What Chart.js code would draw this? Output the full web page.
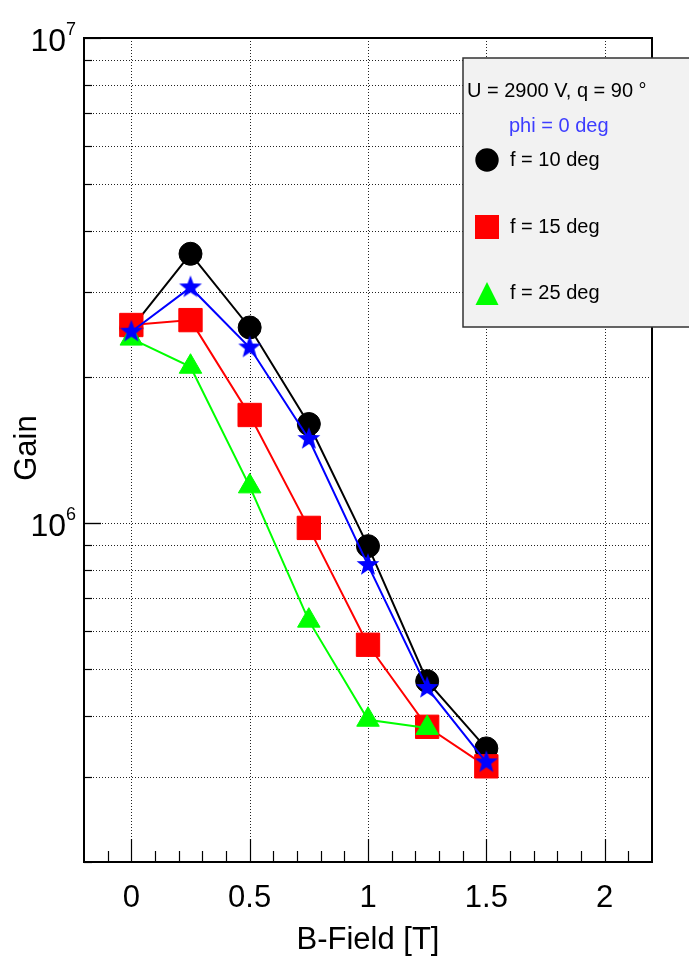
<!DOCTYPE html>
<html>
<head>
<meta charset="utf-8">
<title>Gain vs B-Field</title>
<script src="https://cdn.jsdelivr.net/npm/chart.js@4.4.0/dist/chart.umd.min.js"></script>
<style>
  html, body { margin: 0; padding: 0; background: #fff; }
  canvas { display: block; }
</style>
</head>
<body>
<canvas id="gainChart" width="689" height="960"></canvas>
<script>
// values
const bField = [0, 0.25, 0.5, 0.75, 1.0, 1.25, 1.5];
const gainF10 = [2.52e6, 3.59e6, 2.53e6, 1.60e6, 8.96e5, 4.72e5, 3.43e5];
const gainF15 = [2.56e6, 2.62e6, 1.67e6, 9.77e5, 5.61e5, 3.80e5, 3.15e5];
const gainF25 = [2.40e6, 2.10e6, 1.19e6, 6.29e5, 3.93e5, 3.78e5];
const gainPhi0 = [2.48e6, 3.06e6, 2.30e6, 1.49e6, 8.19e5, 4.57e5, 3.21e5];

const xTickValues = [0, 0.5, 1, 1.5, 2];
const xTickLabels = ["0", "0.5", "1", "1.5", "2"];
const yDecadeValues = [1e6, 1e7];
const yDecadeExponents = ["6", "7"];
const yGridValues = [2e5, 3e5, 4e5, 5e5, 6e5, 7e5, 8e5, 9e5,
                     1e6, 2e6, 3e6, 4e6, 5e6, 6e6, 7e6, 8e6, 9e6];

const legendTitle = "U = 2900 V, q = 90 \u00b0";
const legendSub = "phi = 0 deg";
const legendLabels = ["f = 10 deg", "f = 15 deg", "f = 25 deg"];

const FONT = '"Liberation Sans", Arial, Helvetica, sans-serif';

function toPoints(xs, ys) {
  return ys.map((y, i) => ({ x: xs[i], y: y }));
}

// filled five point star used as point style
function makeStar(outer, inner, color) {
  const size = Math.ceil(outer * 2 + 2);
  const c = document.createElement("canvas");
  c.width = size;
  c.height = size;
  const g = c.getContext("2d");
  g.fillStyle = color;
  g.beginPath();
  for (let i = 0; i < 10; i++) {
    const r = i % 2 === 0 ? outer : inner;
    const a = -Math.PI / 2 + (i * Math.PI) / 5;
    const px = size / 2 + r * Math.cos(a);
    const py = size / 2 + r * Math.sin(a);
    if (i === 0) g.moveTo(px, py);
    else g.lineTo(px, py);
  }
  g.closePath();
  g.fill();
  return c;
}

const starImg = makeStar(12, 5, "#0000ff");

const framePlugin = {
  id: "rootFrame",
  beforeDatasetsDraw(chart) {
    const ctx = chart.ctx;
    const area = chart.chartArea;
    const xs = chart.scales.x;
    const ys = chart.scales.y;
    ctx.save();
    ctx.strokeStyle = "#222";
    ctx.lineWidth = 1;
    ctx.setLineDash([1, 2]);
    xTickValues.forEach((v) => {
      const px = Math.round(xs.getPixelForValue(v)) + 0.5;
      ctx.beginPath();
      ctx.moveTo(px, area.top);
      ctx.lineTo(px, area.bottom);
      ctx.stroke();
    });
    yGridValues.forEach((v) => {
      const py = Math.round(ys.getPixelForValue(v)) + 0.5;
      ctx.beginPath();
      ctx.moveTo(area.left, py);
      ctx.lineTo(area.right, py);
      ctx.stroke();
    });
    ctx.restore();
  },
  afterDraw(chart) {
    const ctx = chart.ctx;
    const area = chart.chartArea;
    const xs = chart.scales.x;
    const ys = chart.scales.y;
    ctx.save();
    ctx.setLineDash([]);
    ctx.strokeStyle = "#000";

    // left axis ticks
    ctx.lineWidth = 1.2;
    yGridValues.concat(yDecadeValues).forEach((v) => {
      const py = Math.round(ys.getPixelForValue(v)) + 0.5;
      const len = yDecadeValues.includes(v) ? 17 : 8;
      ctx.beginPath();
      ctx.moveTo(area.left, py);
      ctx.lineTo(area.left + len, py);
      ctx.stroke();
    });

    // bottom axis ticks, minor every 0.1
    for (let k = -1; k <= 21; k++) {
      const v = k / 10;
      const px = Math.round(xs.getPixelForValue(v)) + 0.5;
      const len = k % 5 === 0 ? 23 : 11;
      ctx.beginPath();
      ctx.moveTo(px, area.bottom);
      ctx.lineTo(px, area.bottom - len);
      ctx.stroke();
    }

    // frame
    ctx.lineWidth = 2;
    ctx.strokeRect(area.left, area.top, area.right - area.left, area.bottom - area.top);

    // x tick labels
    ctx.fillStyle = "#000";
    ctx.font = "31px " + FONT;
    ctx.textAlign = "center";
    ctx.textBaseline = "middle";
    xTickValues.forEach((v, i) => {
      ctx.fillText(xTickLabels[i], xs.getPixelForValue(v), 898);
    });
    ctx.fillText("B-Field [T]", (area.left + area.right) / 2, 940);

    // y decade labels 10^n
    yDecadeValues.forEach((v, i) => {
      const py = ys.getPixelForValue(v);
      ctx.font = "18px " + FONT;
      ctx.textAlign = "left";
      ctx.textBaseline = "middle";
      ctx.fillText(yDecadeExponents[i], 66, py - 8);
      ctx.font = "32px " + FONT;
      ctx.textAlign = "right";
      ctx.fillText("10", 66, py + 4);
    });

    // y title
    ctx.save();
    ctx.translate(27, 448);
    ctx.rotate(-Math.PI / 2);
    ctx.font = "31px " + FONT;
    ctx.textAlign = "center";
    ctx.textBaseline = "middle";
    ctx.fillText("Gain", 0, 0);
    ctx.restore();

    // legend box
    const bx = 463, by = 58, bw = 240, bh = 269;
    ctx.fillStyle = "#f2f2f2";
    ctx.fillRect(bx, by, bw, bh);
    ctx.lineWidth = 1.5;
    ctx.strokeStyle = "#333";
    ctx.strokeRect(bx, by, bw, bh);

    ctx.fillStyle = "#000";
    ctx.font = "20px " + FONT;
    ctx.textAlign = "left";
    ctx.textBaseline = "middle";
    ctx.fillText(legendTitle, 467, 91);
    ctx.fillStyle = "#3c3cff";
    ctx.fillText(legendSub, 509, 126);

    const rowY = [160, 227, 293];
    ctx.fillStyle = "#000";
    legendLabels.forEach((t, i) => ctx.fillText(t, 510, rowY[i]));

    const mx = 487;
    ctx.fillStyle = "#000";
    ctx.beginPath();
    ctx.arc(mx, rowY[0], 11.7, 0, Math.PI * 2);
    ctx.fill();
    ctx.fillStyle = "#ff0000";
    ctx.fillRect(mx - 12, rowY[1] - 12, 24, 24);
    ctx.fillStyle = "#00ff00";
    ctx.beginPath();
    ctx.moveTo(mx, rowY[2] - 11);
    ctx.lineTo(mx + 11.5, rowY[2] + 12);
    ctx.lineTo(mx - 11.5, rowY[2] + 12);
    ctx.closePath();
    ctx.fill();

    ctx.restore();
  },
};

const whiteBg = {
  id: "whiteBg",
  beforeDraw(chart) {
    const ctx = chart.ctx;
    ctx.save();
    ctx.fillStyle = "#fff";
    ctx.fillRect(0, 0, chart.width, chart.height);
    ctx.restore();
  },
};

const ctx = document.getElementById("gainChart").getContext("2d");

new Chart(ctx, {
  type: "line",
  data: {
    datasets: [
      {
        label: "phi = 0 deg",
        data: toPoints(bField, gainPhi0),
        borderColor: "#0000ff",
        backgroundColor: "#0000ff",
        pointStyle: starImg,
        order: 1,
      },
      {
        label: "f = 25 deg",
        data: toPoints(bField, gainF25),
        borderColor: "#00ff00",
        backgroundColor: "#00ff00",
        pointStyle: "triangle",
        pointRadius: 13,
        order: 2,
      },
      {
        label: "f = 15 deg",
        data: toPoints(bField, gainF15),
        borderColor: "#ff0000",
        backgroundColor: "#ff0000",
        pointStyle: "rect",
        pointRadius: 16.5,
        order: 3,
      },
      {
        label: "f = 10 deg",
        data: toPoints(bField, gainF10),
        borderColor: "#000000",
        backgroundColor: "#000000",
        pointStyle: "circle",
        pointRadius: 11.5,
        order: 4,
      },
    ],
  },
  options: {
    responsive: false,
    animation: false,
    events: [],
    layout: { padding: { left: 84, top: 38, right: 37, bottom: 98 } },
    elements: {
      line: { borderWidth: 2, tension: 0 },
      point: { borderWidth: 1, radius: 12 },
    },
    scales: {
      x: { type: "linear", min: -0.2, max: 2.2, display: false },
      y: { type: "logarithmic", min: 2e5, max: 1e7, display: false },
    },
    plugins: {
      legend: { display: false },
      tooltip: { enabled: false },
    },
  },
  plugins: [whiteBg, framePlugin],
});
</script>
</body>
</html>
